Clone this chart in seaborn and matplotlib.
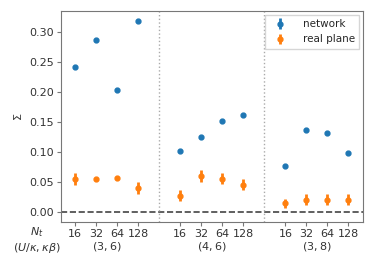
import numpy as np
import pandas as pd
import matplotlib
matplotlib.use("Agg")
import matplotlib.pyplot as plt
import seaborn as sns

# Data
nt_labels = ["16", "32", "64", "128"]
groups = ["(3, 6)", "(4, 6)", "(3, 8)"]

network = [0.242, 0.286, 0.204, 0.318,
           0.101, 0.124, 0.151, 0.161,
           0.077, 0.137, 0.131, 0.098]
network_err = [0.002] * 12

real_plane = [0.054, 0.054, 0.056, 0.039,
              0.027, 0.059, 0.055, 0.045,
              0.014, 0.020, 0.020, 0.020]
real_plane_err = [0.010, 0.002, 0.002, 0.010,
                  0.009, 0.010, 0.009, 0.009,
                  0.007, 0.009, 0.009, 0.009]

sns.set_style("ticks")
pal = sns.color_palette("tab10")

# x positions: four N_t per group, one empty slot between groups
pos = []
for g in range(len(groups)):
    pos += [g * 5 + i for i in range(len(nt_labels))]

df = pd.DataFrame({
    "x": pos * 2,
    "Sigma": network + real_plane,
    "err": network_err + real_plane_err,
    "kind": ["network"] * 12 + ["real plane"] * 12,
})

fig = plt.figure(figsize=(3.74, 2.67), dpi=100)
ax = fig.add_axes([0.163, 0.169, 0.808, 0.790])

for k, c in zip(["network", "real plane"], [pal[0], pal[1]]):
    sub = df[df["kind"] == k]
    ax.errorbar(sub["x"], sub["Sigma"], yerr=sub["err"], fmt="o", ms=3.5,
                color=c, elinewidth=2, capsize=0, label=k)

ax.axhline(0, color="#444444", ls="--", lw=1.2)
for g in range(1, len(groups)):
    ax.axvline(g * 5 - 1, color="#aaaaaa", ls=":", lw=1)

ax.set_xlim(-0.67, 13.7)
ax.set_ylim(-0.0167, 0.335)
ax.set_yticks([0.0, 0.05, 0.10, 0.15, 0.20, 0.25, 0.30])
ax.set_yticklabels(["0.00", "0.05", "0.10", "0.15", "0.20", "0.25", "0.30"])
ax.set_xticks(pos)
ax.set_xticklabels(nt_labels * len(groups))
ax.tick_params(axis="x", length=3, pad=2, labelsize=8, colors="#333333", color="#777777")
ax.tick_params(axis="y", length=3, pad=2, labelsize=8, colors="#333333", color="#777777")
ax.set_ylabel(r"$\Sigma$", fontsize=8, color="#333333", labelpad=4)

for s in ax.spines.values():
    s.set_color("#777777")

trans = matplotlib.transforms.blended_transform_factory(ax.transData, ax.transAxes)
ax.text(-1.8, -0.047, r"$N_t$", transform=trans, ha="center", va="center",
        fontsize=8, color="#333333")
ax.text(-1.8, -0.123, r"$(U/\kappa, \kappa\beta)$", transform=trans, ha="center",
        va="center", fontsize=8, color="#333333")
for g, lab in enumerate(groups):
    ax.text(g * 5 + 1.5, -0.118, "$" + lab + "$", transform=trans, ha="center",
            va="center", fontsize=8, color="#333333")

ax.legend(loc="upper right", fontsize=7.5, frameon=True, fancybox=False,
          handletextpad=1.2, borderaxespad=0.4)

fig.savefig("out.png", dpi=100)
